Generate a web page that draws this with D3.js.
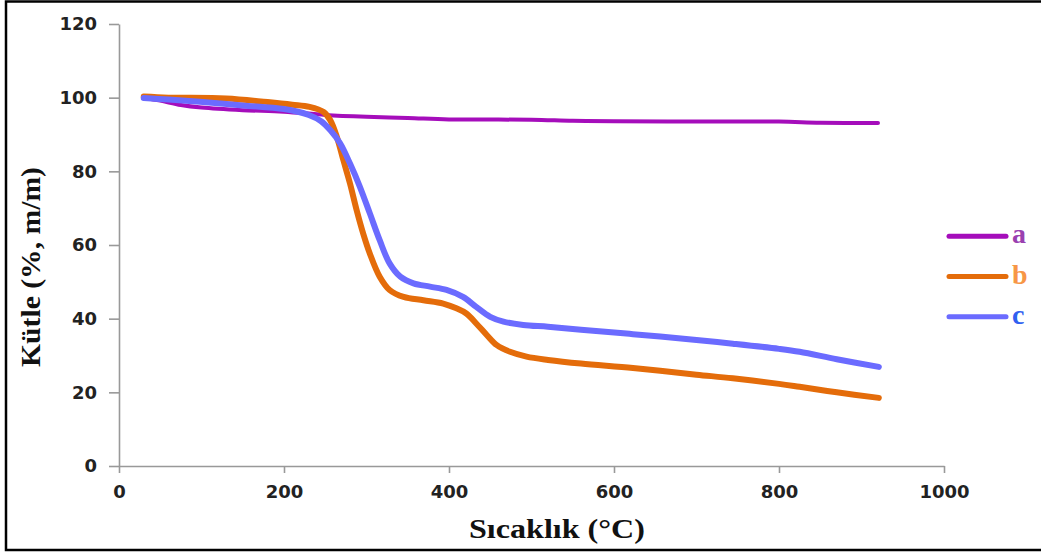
<!DOCTYPE html>
<html><head><meta charset="utf-8">
<script src="https://cdn.jsdelivr.net/npm/d3@7"></script>
<style>body{margin:0;background:#fff}svg{display:block}</style>
</head><body>
<svg id="c" width="1041" height="554"></svg>
<script>
const seriesNames = ["a", "b", "c"];
const seriesColors = ["#A50DBB", "#E46C0A", "#6B6BFF"];
const labelColors = ["#9A40B0", "#F79646", "#3060F0"];
const xTicks = [0, 200, 400, 600, 800, 1000];
const yTicks = [0, 20, 40, 60, 80, 100, 120];
const seriesA = [[30,100],[50,99.2],[75,98],[100,97.3],[150,96.6],[200,96.2],[250,95.3],[300,94.8],[350,94.5],[400,94.1],[500,94],[550,93.7],[600,93.6],[700,93.5],[800,93.5],[850,93.2],[920,93.1]];
const seriesB = [[30,100.3],[60,100],[130,99.8],[180,98.8],[210,98.1],[231,97.5],[248,96.1],[256,93.9],[264,89.4],[272,83],[280,76.7],[288,69.5],[296,63.1],[304,57.7],[316,51.4],[328,47.8],[345,45.9],[369,45],[393,44.1],[409,42.8],[421,41.4],[433,38.7],[446,35.5],[458,32.8],[474,31],[494,29.7],[520,28.8],[560,27.8],[623,26.6],[700,24.8],[744,23.8],[800,22.3],[825,21.5],[870,20],[921,18.5]];
const seriesC = [[30,99.9],[60,99.5],[98,98.9],[150,97.9],[200,96.9],[230,95.3],[245,93.6],[256,91.2],[268,87.6],[280,82.1],[292,75.8],[304,68.6],[316,61.3],[328,55],[341,51.4],[357,49.6],[377,48.7],[397,47.8],[417,45.9],[433,43.2],[450,40.5],[466,39.2],[490,38.3],[520,37.8],[560,37],[623,35.8],[700,34.2],[744,33.2],[800,31.8],[825,31],[870,29],[921,26.9]];
const allSeries = [seriesA, seriesB, seriesC];
const widths = [4, 6, 6];

const svg = d3.select("#c");
svg.append("rect").attr("x", 6).attr("y", 1.5).attr("width", 1045).attr("height", 548.5)
  .attr("fill", "none").attr("stroke", "#000").attr("stroke-width", 2.5);

const x = d3.scaleLinear().domain([0, 1000]).range([119, 944]);
const y = d3.scaleLinear().domain([0, 120]).range([466, 24]);

const gx = svg.append("g").attr("transform", "translate(0,466)")
  .call(d3.axisBottom(x).tickValues(xTicks).tickFormat(d3.format("d")).tickSize(7).tickPadding(12).tickSizeOuter(0));
const gy = svg.append("g").attr("transform", "translate(119,0)")
  .call(d3.axisLeft(y).tickValues(yTicks).tickFormat(d3.format("d")).tickSize(10).tickPadding(12).tickSizeOuter(0));
[gx, gy].forEach(g => {
  g.select(".domain").attr("stroke", "#999").attr("stroke-width", 1.6);
  g.selectAll(".tick line").attr("stroke", "#999").attr("stroke-width", 1.6);
  g.selectAll(".tick text").attr("fill", "#222")
    .style("font-family", "'DejaVu Sans', Verdana, sans-serif")
    .style("font-weight", "bold").style("font-size", "18px");
});

const line = d3.line().x(d => x(d[0])).y(d => y(d[1])).curve(d3.curveCatmullRom.alpha(0.5));
allSeries.forEach((s, i) => {
  svg.append("path").datum(s).attr("d", line).attr("fill", "none")
    .attr("stroke", seriesColors[i]).attr("stroke-width", widths[i])
    .attr("stroke-linecap", "round").attr("stroke-linejoin", "round");
});

const ly = d3.scaleBand().domain(seriesNames).range([216, 337]);
seriesNames.forEach((n, i) => {
  const yy = ly(n) + ly.bandwidth() / 2;
  svg.append("line").attr("x1", 949).attr("x2", 1006).attr("y1", yy).attr("y2", yy)
    .attr("stroke", seriesColors[i]).attr("stroke-width", 5).attr("stroke-linecap", "round");
  svg.append("text").attr("x", 1012).attr("y", yy + 7).text(n)
    .attr("fill", labelColors[i]).style("font-family", "'Liberation Serif', 'Times New Roman', serif")
    .style("font-weight", "bold").style("font-size", "28px");
});

svg.append("text").attr("x", 557).attr("y", 538).attr("text-anchor", "middle")
  .attr("textLength", 176).attr("lengthAdjust", "spacingAndGlyphs")
  .text("Sıcaklık (°C)").attr("fill", "#111")
  .style("font-family", "'Liberation Serif', 'Times New Roman', serif")
  .style("font-weight", "bold").style("font-size", "27px");
svg.append("text").attr("transform", "translate(40,267) rotate(-90)").attr("text-anchor", "middle")
  .attr("textLength", 200).attr("lengthAdjust", "spacingAndGlyphs")
  .text("Kütle (%, m/m)").attr("fill", "#111")
  .style("font-family", "'Liberation Serif', 'Times New Roman', serif")
  .style("font-weight", "bold").style("font-size", "27px");
</script>
</body></html>
